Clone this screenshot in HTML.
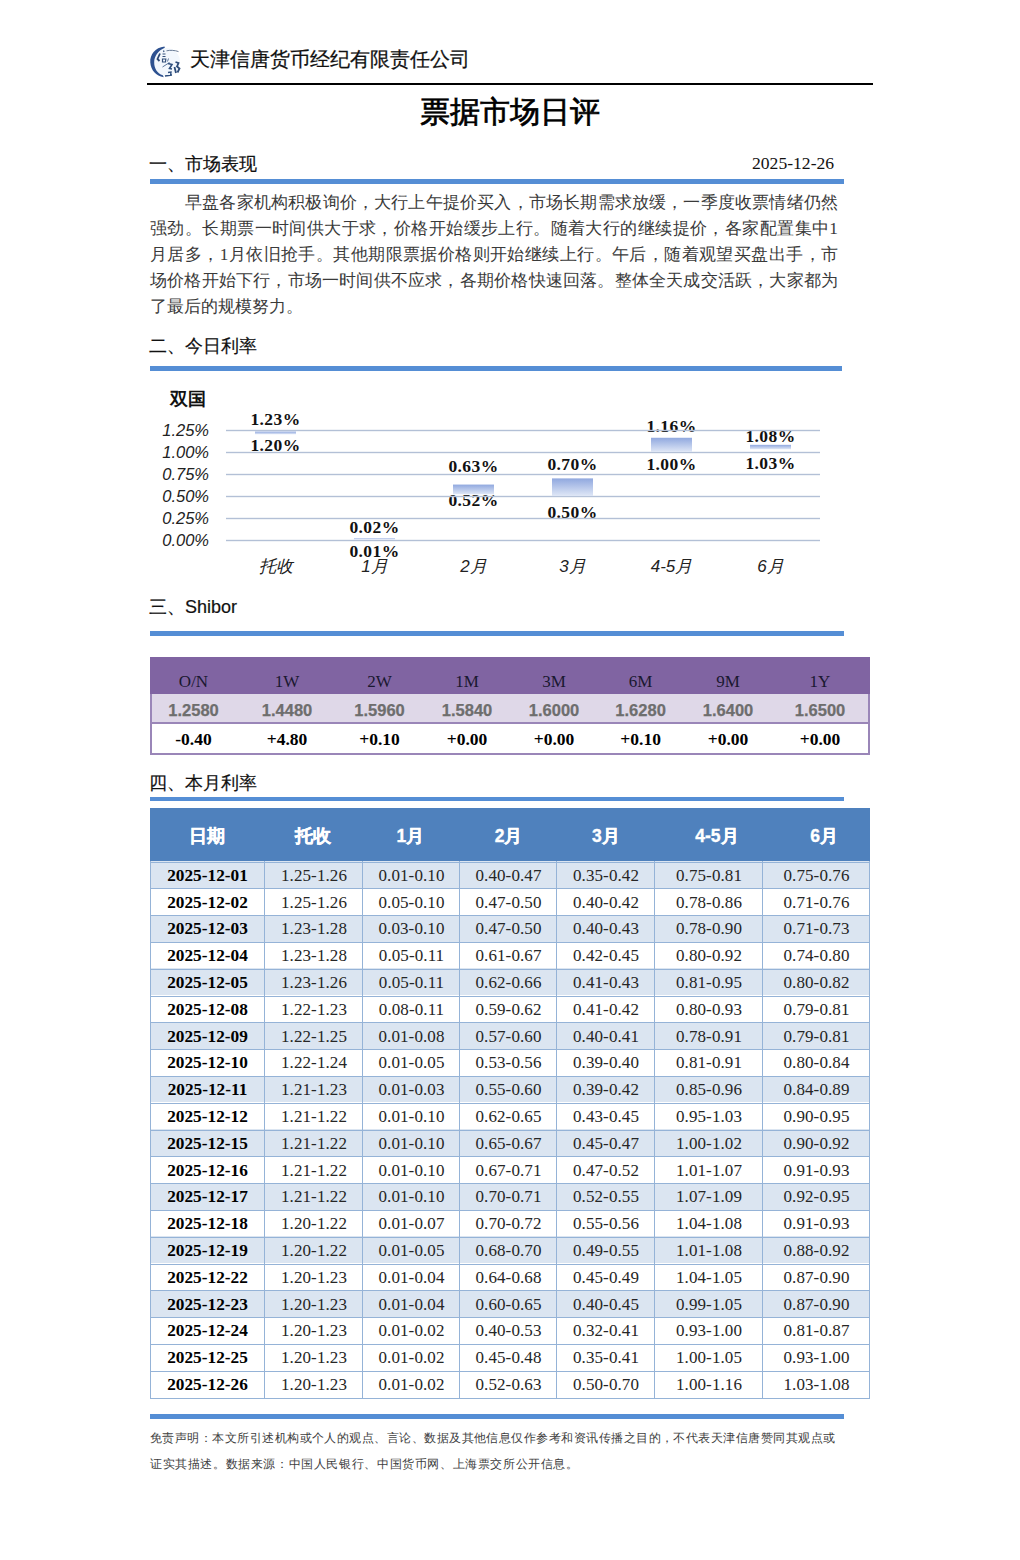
<!DOCTYPE html>
<html><head><meta charset="utf-8">
<style>
*{margin:0;padding:0;box-sizing:border-box}
html,body{width:1020px;height:1560px;background:#fff;overflow:hidden}
body{position:relative;font-family:"Liberation Serif",serif;color:#000}
.a{position:absolute;white-space:nowrap}
.c{position:absolute;white-space:nowrap;text-align:center;width:200px;margin-left:-100px}
.sans{font-family:"Liberation Sans",sans-serif}
.bar{position:absolute;left:150px;width:694px;height:5px;background:#558ed5}
.sec{position:absolute;left:149px;font-family:"Liberation Sans",sans-serif;font-size:18px;line-height:20px;color:#111;-webkit-text-stroke:0.2px #111}
.para{position:absolute;left:150px;width:688px;font-size:17.3px;color:#3a3a3a}
.para div{position:absolute;left:0;width:688px;white-space:nowrap;text-align:justify;text-align-last:justify;line-height:20px}
.para div.last{text-align-last:left}
.gl{position:absolute;left:226px;width:594px;height:1.6px;background:#b3c0d6}
.yl{position:absolute;left:120px;width:89px;text-align:right;font-family:"Liberation Sans",sans-serif;font-style:italic;font-size:16.5px;line-height:20px;color:#222}
.xl{position:absolute;width:120px;margin-left:-60px;text-align:center;font-family:"Liberation Sans",sans-serif;font-style:italic;font-size:17px;line-height:20px;color:#222}
.bl{position:absolute;width:120px;margin-left:-60px;text-align:center;font-weight:bold;font-size:17.5px;letter-spacing:0.4px;line-height:20px;color:#111}
.cb{position:absolute;width:41px;margin-left:-20.5px;background:linear-gradient(to bottom,#90a8df,#dfe7f6)}
.sh{position:absolute;width:120px;margin-left:-60px;text-align:center;line-height:20px;white-space:nowrap}
.mt{position:absolute;left:150px;top:808px;width:720px}
.hd{position:absolute;width:120px;margin-left:-60px;text-align:center;font-family:"Liberation Sans",sans-serif;font-weight:bold;font-size:17.5px;line-height:20px;color:#fff;-webkit-text-stroke:0.35px #fff}
.dt{position:absolute;width:120px;margin-left:-60px;text-align:center;font-size:17px;line-height:20px;color:#262626;white-space:nowrap}
</style></head><body>

<svg class="a" style="left:146px;top:43px" width="40" height="38" viewBox="0 0 40 38">
<defs><filter id="bl" x="-20%" y="-20%" width="140%" height="140%"><feGaussianBlur stdDeviation="0.3"/></filter></defs><circle cx="20" cy="19" r="14" fill="#f2f7fd"/><g filter="url(#bl)">
<path d="M18.5 3.6 C9 4.5 3.8 12 4.3 19.5 C4.8 27 10 33 17.8 34.3 L16.8 32.2 C11 30.5 8 25 8.2 19 C8.4 13 12 7.5 18.8 4.7 Z" fill="#2d5190"/>
<path d="M20.5 7.8 C24 7 29 7.2 32.5 8.6" fill="none" stroke="#5b6f8c" stroke-width="0.9"/>
<path d="M14 10.5 L11.5 16 L13.5 18" fill="none" stroke="#2f4a75" stroke-width="1.8"/>
<path d="M17.5 7.5 L18 9 M16.5 11 L19.5 11 M16.5 13.5 L19.5 13.5 M16.5 16 L19.8 16 L19.5 19 L16.5 19 Z" fill="none" stroke="#35507a" stroke-width="1.2"/>
<path d="M22.5 15.5 L21.5 18.5 M16.5 24 L23.5 19.5" fill="none" stroke="#4a6690" stroke-width="0.9"/>
<path d="M22 20.5 L26 21.5 L23.5 25.5 L26 26" fill="none" stroke="#2f4f7e" stroke-width="1.6"/>
<path d="M29.5 19 L32.5 20 L31 23.5 L33.5 25.5 L31.5 29.5 M28.5 24 L30 30" fill="none" stroke="#2d4b78" stroke-width="1.8"/>
<path d="M22 29.5 L25 29 L24.5 33 M19 33 L26 32" fill="none" stroke="#2f4f7e" stroke-width="1.4"/>
</g></svg>
<div class="a sans" style="left:190px;top:47px;font-size:20px;line-height:24px;color:#111;-webkit-text-stroke:0.25px #111">天津信唐货币经纪有限责任公司</div>
<div class="a" style="left:147px;top:83px;width:726px;height:2px;background:#000"></div>
<div class="a" style="left:420px;top:95px;font-size:30px;line-height:34px;font-weight:normal;-webkit-text-stroke:0.7px #000;color:#000;letter-spacing:0px">票据市场日评</div>
<div class="sec" style="top:154px">一、市场表现</div>
<div class="a" style="left:752px;top:153px;font-size:17.6px;line-height:20px;color:#111">2025-12-26</div>
<div class="bar" style="top:179px"></div>
<div class="para" style="top:0">
<div style="top:192.5px;left:35px;width:653px">早盘各家机构积极询价，大行上午提价买入，市场长期需求放缓，一季度收票情绪仍然</div>
<div style="top:218.5px">强劲。长期票一时间供大于求，价格开始缓步上行。随着大行的继续提价，各家配置集中1</div>
<div style="top:244.5px">月居多，1月依旧抢手。其他期限票据价格则开始继续上行。午后，随着观望买盘出手，市</div>
<div style="top:270.5px">场价格开始下行，市场一时间供不应求，各期价格快速回落。整体全天成交活跃，大家都为</div>
<div class="last" style="top:296.5px">了最后的规模努力。</div>
</div>
<div class="sec" style="top:336px">二、今日利率</div>
<div class="bar" style="top:366px;width:692px"></div>
<div class="a" style="left:170px;top:389px;font-size:17.5px;line-height:20px;font-weight:bold;color:#111">双国</div>
<div class="yl" style="top:420.0px">1.25%</div>
<div class="yl" style="top:442.0px">1.00%</div>
<div class="yl" style="top:464.0px">0.75%</div>
<div class="yl" style="top:486.0px">0.50%</div>
<div class="yl" style="top:508.0px">0.25%</div>
<div class="yl" style="top:530.0px">0.00%</div>
<div class="bl" style="left:275.5px;top:408.7px">1.23%</div>
<div class="bl" style="left:275.5px;top:435.1px">1.20%</div>
<div class="xl" style="left:275.5px;top:557px">托收</div>
<div class="bl" style="left:374.5px;top:516.7px">0.02%</div>
<div class="bl" style="left:374.5px;top:541.0px">0.01%</div>
<div class="xl" style="left:374.5px;top:557px">1月</div>
<div class="bl" style="left:473.5px;top:456.3px">0.63%</div>
<div class="bl" style="left:473.5px;top:490.2px">0.52%</div>
<div class="xl" style="left:473.5px;top:557px">2月</div>
<div class="bl" style="left:572.5px;top:453.8px">0.70%</div>
<div class="bl" style="left:572.5px;top:501.5px">0.50%</div>
<div class="xl" style="left:572.5px;top:557px">3月</div>
<div class="bl" style="left:671.5px;top:416.0px">1.16%</div>
<div class="bl" style="left:671.5px;top:453.8px">1.00%</div>
<div class="xl" style="left:671.5px;top:557px">4-5月</div>
<div class="bl" style="left:770.5px;top:426.3px">1.08%</div>
<div class="bl" style="left:770.5px;top:452.8px">1.03%</div>
<div class="xl" style="left:770.5px;top:557px">6月</div>
<svg class="a" style="left:0;top:0" width="1020" height="600" viewBox="0 0 1020 600"><defs><linearGradient id="bg" x1="0" y1="0" x2="0" y2="1"><stop offset="0" stop-color="#90a8df"/><stop offset="1" stop-color="#dfe7f6"/></linearGradient></defs><rect x="226" y="429.80" width="594" height="1.40" fill="#b3c0d6"/><rect x="226" y="451.80" width="594" height="1.40" fill="#b3c0d6"/><rect x="226" y="473.80" width="594" height="1.40" fill="#b3c0d6"/><rect x="226" y="495.80" width="594" height="1.40" fill="#b3c0d6"/><rect x="226" y="517.80" width="594" height="1.40" fill="#b3c0d6"/><rect x="226" y="539.80" width="594" height="1.40" fill="#b3c0d6"/><rect x="255.00" y="431.59" width="41" height="2.65" fill="url(#bg)"/><rect x="354.00" y="538.43" width="41" height="1.20" fill="url(#bg)"/><rect x="453.00" y="484.57" width="41" height="9.71" fill="url(#bg)"/><rect x="552.00" y="478.39" width="41" height="17.66" fill="url(#bg)"/><rect x="651.00" y="437.77" width="41" height="14.13" fill="url(#bg)"/><rect x="750.00" y="444.84" width="41" height="4.42" fill="url(#bg)"/></svg>
<div class="sec" style="top:597px">三、Shibor</div>
<div class="bar" style="top:631px"></div>
<div class="a" style="left:150px;top:657px;width:720px;height:98px;border:2px solid #9a86b8;background:#fff"></div>
<div class="a" style="left:150px;top:657px;width:720px;height:37px;background:#8064a2"></div>
<div class="a" style="left:152px;top:694px;width:716px;height:29px;background:#dfd8e8"></div>
<div class="a" style="left:150px;top:722px;width:720px;height:2px;background:#9a86b8"></div>
<div class="sh" style="left:193.5px;top:672px;font-size:17px;color:#1a1830">O/N</div>
<div class="sh sans" style="left:193.5px;top:700px;font-size:16.5px;font-weight:bold;color:#6e6e6e;-webkit-text-stroke:0.25px #6e6e6e">1.2580</div>
<div class="sh" style="left:193.5px;top:729px;font-size:17.5px;font-weight:bold;color:#000">-0.40</div>
<div class="sh" style="left:287.0px;top:672px;font-size:17px;color:#1a1830">1W</div>
<div class="sh sans" style="left:287.0px;top:700px;font-size:16.5px;font-weight:bold;color:#6e6e6e;-webkit-text-stroke:0.25px #6e6e6e">1.4480</div>
<div class="sh" style="left:287.0px;top:729px;font-size:17.5px;font-weight:bold;color:#000">+4.80</div>
<div class="sh" style="left:379.5px;top:672px;font-size:17px;color:#1a1830">2W</div>
<div class="sh sans" style="left:379.5px;top:700px;font-size:16.5px;font-weight:bold;color:#6e6e6e;-webkit-text-stroke:0.25px #6e6e6e">1.5960</div>
<div class="sh" style="left:379.5px;top:729px;font-size:17.5px;font-weight:bold;color:#000">+0.10</div>
<div class="sh" style="left:467.0px;top:672px;font-size:17px;color:#1a1830">1M</div>
<div class="sh sans" style="left:467.0px;top:700px;font-size:16.5px;font-weight:bold;color:#6e6e6e;-webkit-text-stroke:0.25px #6e6e6e">1.5840</div>
<div class="sh" style="left:467.0px;top:729px;font-size:17.5px;font-weight:bold;color:#000">+0.00</div>
<div class="sh" style="left:554.0px;top:672px;font-size:17px;color:#1a1830">3M</div>
<div class="sh sans" style="left:554.0px;top:700px;font-size:16.5px;font-weight:bold;color:#6e6e6e;-webkit-text-stroke:0.25px #6e6e6e">1.6000</div>
<div class="sh" style="left:554.0px;top:729px;font-size:17.5px;font-weight:bold;color:#000">+0.00</div>
<div class="sh" style="left:640.6px;top:672px;font-size:17px;color:#1a1830">6M</div>
<div class="sh sans" style="left:640.6px;top:700px;font-size:16.5px;font-weight:bold;color:#6e6e6e;-webkit-text-stroke:0.25px #6e6e6e">1.6280</div>
<div class="sh" style="left:640.6px;top:729px;font-size:17.5px;font-weight:bold;color:#000">+0.10</div>
<div class="sh" style="left:728.0px;top:672px;font-size:17px;color:#1a1830">9M</div>
<div class="sh sans" style="left:728.0px;top:700px;font-size:16.5px;font-weight:bold;color:#6e6e6e;-webkit-text-stroke:0.25px #6e6e6e">1.6400</div>
<div class="sh" style="left:728.0px;top:729px;font-size:17.5px;font-weight:bold;color:#000">+0.00</div>
<div class="sh" style="left:820.0px;top:672px;font-size:17px;color:#1a1830">1Y</div>
<div class="sh sans" style="left:820.0px;top:700px;font-size:16.5px;font-weight:bold;color:#6e6e6e;-webkit-text-stroke:0.25px #6e6e6e">1.6500</div>
<div class="sh" style="left:820.0px;top:729px;font-size:17.5px;font-weight:bold;color:#000">+0.00</div>
<div class="sec" style="top:773px">四、本月利率</div>
<div class="bar" style="top:797px;height:4px"></div>
<div class="a" style="left:150px;top:808px;width:720px;height:53px;background:#4f81bd"></div>
<div class="hd" style="left:206.8px;top:826px">日期</div>
<div class="hd" style="left:312.7px;top:826px">托收</div>
<div class="hd" style="left:410.3px;top:826px">1月</div>
<div class="hd" style="left:508.5px;top:826px">2月</div>
<div class="hd" style="left:605.9px;top:826px">3月</div>
<div class="hd" style="left:716.9px;top:826px">4-5月</div>
<div class="hd" style="left:824.2px;top:826px">6月</div>
<div class="a" style="left:150px;top:861.2px;width:720px;height:26.8px;background:#dbe5f1"></div>
<div class="dt" style="left:207.5px;top:865.7px;font-weight:bold;color:#000;font-size:17.3px">2025-12-01</div>
<div class="dt" style="left:314.0px;top:865.7px;letter-spacing:0.1px">1.25-1.26</div>
<div class="dt" style="left:411.5px;top:865.7px;letter-spacing:0.1px">0.01-0.10</div>
<div class="dt" style="left:508.5px;top:865.7px;letter-spacing:0.1px">0.40-0.47</div>
<div class="dt" style="left:606.0px;top:865.7px;letter-spacing:0.1px">0.35-0.42</div>
<div class="dt" style="left:709.0px;top:865.7px;letter-spacing:0.1px">0.75-0.81</div>
<div class="dt" style="left:816.5px;top:865.7px;letter-spacing:0.1px">0.75-0.76</div>
<div class="dt" style="left:207.5px;top:892.5px;font-weight:bold;color:#000;font-size:17.3px">2025-12-02</div>
<div class="dt" style="left:314.0px;top:892.5px;letter-spacing:0.1px">1.25-1.26</div>
<div class="dt" style="left:411.5px;top:892.5px;letter-spacing:0.1px">0.05-0.10</div>
<div class="dt" style="left:508.5px;top:892.5px;letter-spacing:0.1px">0.47-0.50</div>
<div class="dt" style="left:606.0px;top:892.5px;letter-spacing:0.1px">0.40-0.42</div>
<div class="dt" style="left:709.0px;top:892.5px;letter-spacing:0.1px">0.78-0.86</div>
<div class="dt" style="left:816.5px;top:892.5px;letter-spacing:0.1px">0.71-0.76</div>
<div class="a" style="left:150px;top:914.8px;width:720px;height:26.8px;background:#dbe5f1"></div>
<div class="dt" style="left:207.5px;top:919.3px;font-weight:bold;color:#000;font-size:17.3px">2025-12-03</div>
<div class="dt" style="left:314.0px;top:919.3px;letter-spacing:0.1px">1.23-1.28</div>
<div class="dt" style="left:411.5px;top:919.3px;letter-spacing:0.1px">0.03-0.10</div>
<div class="dt" style="left:508.5px;top:919.3px;letter-spacing:0.1px">0.47-0.50</div>
<div class="dt" style="left:606.0px;top:919.3px;letter-spacing:0.1px">0.40-0.43</div>
<div class="dt" style="left:709.0px;top:919.3px;letter-spacing:0.1px">0.78-0.90</div>
<div class="dt" style="left:816.5px;top:919.3px;letter-spacing:0.1px">0.71-0.73</div>
<div class="dt" style="left:207.5px;top:946.1px;font-weight:bold;color:#000;font-size:17.3px">2025-12-04</div>
<div class="dt" style="left:314.0px;top:946.1px;letter-spacing:0.1px">1.23-1.28</div>
<div class="dt" style="left:411.5px;top:946.1px;letter-spacing:0.1px">0.05-0.11</div>
<div class="dt" style="left:508.5px;top:946.1px;letter-spacing:0.1px">0.61-0.67</div>
<div class="dt" style="left:606.0px;top:946.1px;letter-spacing:0.1px">0.42-0.45</div>
<div class="dt" style="left:709.0px;top:946.1px;letter-spacing:0.1px">0.80-0.92</div>
<div class="dt" style="left:816.5px;top:946.1px;letter-spacing:0.1px">0.74-0.80</div>
<div class="a" style="left:150px;top:968.4px;width:720px;height:26.8px;background:#dbe5f1"></div>
<div class="dt" style="left:207.5px;top:972.9px;font-weight:bold;color:#000;font-size:17.3px">2025-12-05</div>
<div class="dt" style="left:314.0px;top:972.9px;letter-spacing:0.1px">1.23-1.26</div>
<div class="dt" style="left:411.5px;top:972.9px;letter-spacing:0.1px">0.05-0.11</div>
<div class="dt" style="left:508.5px;top:972.9px;letter-spacing:0.1px">0.62-0.66</div>
<div class="dt" style="left:606.0px;top:972.9px;letter-spacing:0.1px">0.41-0.43</div>
<div class="dt" style="left:709.0px;top:972.9px;letter-spacing:0.1px">0.81-0.95</div>
<div class="dt" style="left:816.5px;top:972.9px;letter-spacing:0.1px">0.80-0.82</div>
<div class="dt" style="left:207.5px;top:999.7px;font-weight:bold;color:#000;font-size:17.3px">2025-12-08</div>
<div class="dt" style="left:314.0px;top:999.7px;letter-spacing:0.1px">1.22-1.23</div>
<div class="dt" style="left:411.5px;top:999.7px;letter-spacing:0.1px">0.08-0.11</div>
<div class="dt" style="left:508.5px;top:999.7px;letter-spacing:0.1px">0.59-0.62</div>
<div class="dt" style="left:606.0px;top:999.7px;letter-spacing:0.1px">0.41-0.42</div>
<div class="dt" style="left:709.0px;top:999.7px;letter-spacing:0.1px">0.80-0.93</div>
<div class="dt" style="left:816.5px;top:999.7px;letter-spacing:0.1px">0.79-0.81</div>
<div class="a" style="left:150px;top:1022.0px;width:720px;height:26.8px;background:#dbe5f1"></div>
<div class="dt" style="left:207.5px;top:1026.5px;font-weight:bold;color:#000;font-size:17.3px">2025-12-09</div>
<div class="dt" style="left:314.0px;top:1026.5px;letter-spacing:0.1px">1.22-1.25</div>
<div class="dt" style="left:411.5px;top:1026.5px;letter-spacing:0.1px">0.01-0.08</div>
<div class="dt" style="left:508.5px;top:1026.5px;letter-spacing:0.1px">0.57-0.60</div>
<div class="dt" style="left:606.0px;top:1026.5px;letter-spacing:0.1px">0.40-0.41</div>
<div class="dt" style="left:709.0px;top:1026.5px;letter-spacing:0.1px">0.78-0.91</div>
<div class="dt" style="left:816.5px;top:1026.5px;letter-spacing:0.1px">0.79-0.81</div>
<div class="dt" style="left:207.5px;top:1053.3px;font-weight:bold;color:#000;font-size:17.3px">2025-12-10</div>
<div class="dt" style="left:314.0px;top:1053.3px;letter-spacing:0.1px">1.22-1.24</div>
<div class="dt" style="left:411.5px;top:1053.3px;letter-spacing:0.1px">0.01-0.05</div>
<div class="dt" style="left:508.5px;top:1053.3px;letter-spacing:0.1px">0.53-0.56</div>
<div class="dt" style="left:606.0px;top:1053.3px;letter-spacing:0.1px">0.39-0.40</div>
<div class="dt" style="left:709.0px;top:1053.3px;letter-spacing:0.1px">0.81-0.91</div>
<div class="dt" style="left:816.5px;top:1053.3px;letter-spacing:0.1px">0.80-0.84</div>
<div class="a" style="left:150px;top:1075.6px;width:720px;height:26.8px;background:#dbe5f1"></div>
<div class="dt" style="left:207.5px;top:1080.1px;font-weight:bold;color:#000;font-size:17.3px">2025-12-11</div>
<div class="dt" style="left:314.0px;top:1080.1px;letter-spacing:0.1px">1.21-1.23</div>
<div class="dt" style="left:411.5px;top:1080.1px;letter-spacing:0.1px">0.01-0.03</div>
<div class="dt" style="left:508.5px;top:1080.1px;letter-spacing:0.1px">0.55-0.60</div>
<div class="dt" style="left:606.0px;top:1080.1px;letter-spacing:0.1px">0.39-0.42</div>
<div class="dt" style="left:709.0px;top:1080.1px;letter-spacing:0.1px">0.85-0.96</div>
<div class="dt" style="left:816.5px;top:1080.1px;letter-spacing:0.1px">0.84-0.89</div>
<div class="dt" style="left:207.5px;top:1106.9px;font-weight:bold;color:#000;font-size:17.3px">2025-12-12</div>
<div class="dt" style="left:314.0px;top:1106.9px;letter-spacing:0.1px">1.21-1.22</div>
<div class="dt" style="left:411.5px;top:1106.9px;letter-spacing:0.1px">0.01-0.10</div>
<div class="dt" style="left:508.5px;top:1106.9px;letter-spacing:0.1px">0.62-0.65</div>
<div class="dt" style="left:606.0px;top:1106.9px;letter-spacing:0.1px">0.43-0.45</div>
<div class="dt" style="left:709.0px;top:1106.9px;letter-spacing:0.1px">0.95-1.03</div>
<div class="dt" style="left:816.5px;top:1106.9px;letter-spacing:0.1px">0.90-0.95</div>
<div class="a" style="left:150px;top:1129.2px;width:720px;height:26.8px;background:#dbe5f1"></div>
<div class="dt" style="left:207.5px;top:1133.7px;font-weight:bold;color:#000;font-size:17.3px">2025-12-15</div>
<div class="dt" style="left:314.0px;top:1133.7px;letter-spacing:0.1px">1.21-1.22</div>
<div class="dt" style="left:411.5px;top:1133.7px;letter-spacing:0.1px">0.01-0.10</div>
<div class="dt" style="left:508.5px;top:1133.7px;letter-spacing:0.1px">0.65-0.67</div>
<div class="dt" style="left:606.0px;top:1133.7px;letter-spacing:0.1px">0.45-0.47</div>
<div class="dt" style="left:709.0px;top:1133.7px;letter-spacing:0.1px">1.00-1.02</div>
<div class="dt" style="left:816.5px;top:1133.7px;letter-spacing:0.1px">0.90-0.92</div>
<div class="dt" style="left:207.5px;top:1160.5px;font-weight:bold;color:#000;font-size:17.3px">2025-12-16</div>
<div class="dt" style="left:314.0px;top:1160.5px;letter-spacing:0.1px">1.21-1.22</div>
<div class="dt" style="left:411.5px;top:1160.5px;letter-spacing:0.1px">0.01-0.10</div>
<div class="dt" style="left:508.5px;top:1160.5px;letter-spacing:0.1px">0.67-0.71</div>
<div class="dt" style="left:606.0px;top:1160.5px;letter-spacing:0.1px">0.47-0.52</div>
<div class="dt" style="left:709.0px;top:1160.5px;letter-spacing:0.1px">1.01-1.07</div>
<div class="dt" style="left:816.5px;top:1160.5px;letter-spacing:0.1px">0.91-0.93</div>
<div class="a" style="left:150px;top:1182.8px;width:720px;height:26.8px;background:#dbe5f1"></div>
<div class="dt" style="left:207.5px;top:1187.3px;font-weight:bold;color:#000;font-size:17.3px">2025-12-17</div>
<div class="dt" style="left:314.0px;top:1187.3px;letter-spacing:0.1px">1.21-1.22</div>
<div class="dt" style="left:411.5px;top:1187.3px;letter-spacing:0.1px">0.01-0.10</div>
<div class="dt" style="left:508.5px;top:1187.3px;letter-spacing:0.1px">0.70-0.71</div>
<div class="dt" style="left:606.0px;top:1187.3px;letter-spacing:0.1px">0.52-0.55</div>
<div class="dt" style="left:709.0px;top:1187.3px;letter-spacing:0.1px">1.07-1.09</div>
<div class="dt" style="left:816.5px;top:1187.3px;letter-spacing:0.1px">0.92-0.95</div>
<div class="dt" style="left:207.5px;top:1214.1px;font-weight:bold;color:#000;font-size:17.3px">2025-12-18</div>
<div class="dt" style="left:314.0px;top:1214.1px;letter-spacing:0.1px">1.20-1.22</div>
<div class="dt" style="left:411.5px;top:1214.1px;letter-spacing:0.1px">0.01-0.07</div>
<div class="dt" style="left:508.5px;top:1214.1px;letter-spacing:0.1px">0.70-0.72</div>
<div class="dt" style="left:606.0px;top:1214.1px;letter-spacing:0.1px">0.55-0.56</div>
<div class="dt" style="left:709.0px;top:1214.1px;letter-spacing:0.1px">1.04-1.08</div>
<div class="dt" style="left:816.5px;top:1214.1px;letter-spacing:0.1px">0.91-0.93</div>
<div class="a" style="left:150px;top:1236.4px;width:720px;height:26.8px;background:#dbe5f1"></div>
<div class="dt" style="left:207.5px;top:1240.9px;font-weight:bold;color:#000;font-size:17.3px">2025-12-19</div>
<div class="dt" style="left:314.0px;top:1240.9px;letter-spacing:0.1px">1.20-1.22</div>
<div class="dt" style="left:411.5px;top:1240.9px;letter-spacing:0.1px">0.01-0.05</div>
<div class="dt" style="left:508.5px;top:1240.9px;letter-spacing:0.1px">0.68-0.70</div>
<div class="dt" style="left:606.0px;top:1240.9px;letter-spacing:0.1px">0.49-0.55</div>
<div class="dt" style="left:709.0px;top:1240.9px;letter-spacing:0.1px">1.01-1.08</div>
<div class="dt" style="left:816.5px;top:1240.9px;letter-spacing:0.1px">0.88-0.92</div>
<div class="dt" style="left:207.5px;top:1267.7px;font-weight:bold;color:#000;font-size:17.3px">2025-12-22</div>
<div class="dt" style="left:314.0px;top:1267.7px;letter-spacing:0.1px">1.20-1.23</div>
<div class="dt" style="left:411.5px;top:1267.7px;letter-spacing:0.1px">0.01-0.04</div>
<div class="dt" style="left:508.5px;top:1267.7px;letter-spacing:0.1px">0.64-0.68</div>
<div class="dt" style="left:606.0px;top:1267.7px;letter-spacing:0.1px">0.45-0.49</div>
<div class="dt" style="left:709.0px;top:1267.7px;letter-spacing:0.1px">1.04-1.05</div>
<div class="dt" style="left:816.5px;top:1267.7px;letter-spacing:0.1px">0.87-0.90</div>
<div class="a" style="left:150px;top:1290.0px;width:720px;height:26.8px;background:#dbe5f1"></div>
<div class="dt" style="left:207.5px;top:1294.5px;font-weight:bold;color:#000;font-size:17.3px">2025-12-23</div>
<div class="dt" style="left:314.0px;top:1294.5px;letter-spacing:0.1px">1.20-1.23</div>
<div class="dt" style="left:411.5px;top:1294.5px;letter-spacing:0.1px">0.01-0.04</div>
<div class="dt" style="left:508.5px;top:1294.5px;letter-spacing:0.1px">0.60-0.65</div>
<div class="dt" style="left:606.0px;top:1294.5px;letter-spacing:0.1px">0.40-0.45</div>
<div class="dt" style="left:709.0px;top:1294.5px;letter-spacing:0.1px">0.99-1.05</div>
<div class="dt" style="left:816.5px;top:1294.5px;letter-spacing:0.1px">0.87-0.90</div>
<div class="dt" style="left:207.5px;top:1321.3px;font-weight:bold;color:#000;font-size:17.3px">2025-12-24</div>
<div class="dt" style="left:314.0px;top:1321.3px;letter-spacing:0.1px">1.20-1.23</div>
<div class="dt" style="left:411.5px;top:1321.3px;letter-spacing:0.1px">0.01-0.02</div>
<div class="dt" style="left:508.5px;top:1321.3px;letter-spacing:0.1px">0.40-0.53</div>
<div class="dt" style="left:606.0px;top:1321.3px;letter-spacing:0.1px">0.32-0.41</div>
<div class="dt" style="left:709.0px;top:1321.3px;letter-spacing:0.1px">0.93-1.00</div>
<div class="dt" style="left:816.5px;top:1321.3px;letter-spacing:0.1px">0.81-0.87</div>
<div class="dt" style="left:207.5px;top:1348.1px;font-weight:bold;color:#000;font-size:17.3px">2025-12-25</div>
<div class="dt" style="left:314.0px;top:1348.1px;letter-spacing:0.1px">1.20-1.23</div>
<div class="dt" style="left:411.5px;top:1348.1px;letter-spacing:0.1px">0.01-0.02</div>
<div class="dt" style="left:508.5px;top:1348.1px;letter-spacing:0.1px">0.45-0.48</div>
<div class="dt" style="left:606.0px;top:1348.1px;letter-spacing:0.1px">0.35-0.41</div>
<div class="dt" style="left:709.0px;top:1348.1px;letter-spacing:0.1px">1.00-1.05</div>
<div class="dt" style="left:816.5px;top:1348.1px;letter-spacing:0.1px">0.93-1.00</div>
<div class="dt" style="left:207.5px;top:1374.9px;font-weight:bold;color:#000;font-size:17.3px">2025-12-26</div>
<div class="dt" style="left:314.0px;top:1374.9px;letter-spacing:0.1px">1.20-1.23</div>
<div class="dt" style="left:411.5px;top:1374.9px;letter-spacing:0.1px">0.01-0.02</div>
<div class="dt" style="left:508.5px;top:1374.9px;letter-spacing:0.1px">0.52-0.63</div>
<div class="dt" style="left:606.0px;top:1374.9px;letter-spacing:0.1px">0.50-0.70</div>
<div class="dt" style="left:709.0px;top:1374.9px;letter-spacing:0.1px">1.00-1.16</div>
<div class="dt" style="left:816.5px;top:1374.9px;letter-spacing:0.1px">1.03-1.08</div>
<div class="a" style="left:150px;top:861.5px;width:720px;height:1px;background:#95b3d7"></div>
<div class="a" style="left:150px;top:888.3px;width:720px;height:1px;background:#95b3d7"></div>
<div class="a" style="left:150px;top:915.1px;width:720px;height:1px;background:#95b3d7"></div>
<div class="a" style="left:150px;top:941.9px;width:720px;height:1px;background:#95b3d7"></div>
<div class="a" style="left:150px;top:968.7px;width:720px;height:1px;background:#95b3d7"></div>
<div class="a" style="left:150px;top:995.5px;width:720px;height:1px;background:#95b3d7"></div>
<div class="a" style="left:150px;top:1022.3px;width:720px;height:1px;background:#95b3d7"></div>
<div class="a" style="left:150px;top:1049.1px;width:720px;height:1px;background:#95b3d7"></div>
<div class="a" style="left:150px;top:1075.9px;width:720px;height:1px;background:#95b3d7"></div>
<div class="a" style="left:150px;top:1102.7px;width:720px;height:1px;background:#95b3d7"></div>
<div class="a" style="left:150px;top:1129.5px;width:720px;height:1px;background:#95b3d7"></div>
<div class="a" style="left:150px;top:1156.3px;width:720px;height:1px;background:#95b3d7"></div>
<div class="a" style="left:150px;top:1183.1px;width:720px;height:1px;background:#95b3d7"></div>
<div class="a" style="left:150px;top:1209.9px;width:720px;height:1px;background:#95b3d7"></div>
<div class="a" style="left:150px;top:1236.7px;width:720px;height:1px;background:#95b3d7"></div>
<div class="a" style="left:150px;top:1263.5px;width:720px;height:1px;background:#95b3d7"></div>
<div class="a" style="left:150px;top:1290.3px;width:720px;height:1px;background:#95b3d7"></div>
<div class="a" style="left:150px;top:1317.1px;width:720px;height:1px;background:#95b3d7"></div>
<div class="a" style="left:150px;top:1343.9px;width:720px;height:1px;background:#95b3d7"></div>
<div class="a" style="left:150px;top:1370.7px;width:720px;height:1px;background:#95b3d7"></div>
<div class="a" style="left:150px;top:1397.5px;width:720px;height:1px;background:#95b3d7"></div>
<div class="a" style="left:150px;top:861px;width:1px;height:536.5px;background:#95b3d7"></div>
<div class="a" style="left:264px;top:861px;width:1px;height:536.5px;background:#95b3d7"></div>
<div class="a" style="left:362px;top:861px;width:1px;height:536.5px;background:#95b3d7"></div>
<div class="a" style="left:459px;top:861px;width:1px;height:536.5px;background:#95b3d7"></div>
<div class="a" style="left:556px;top:861px;width:1px;height:536.5px;background:#95b3d7"></div>
<div class="a" style="left:654px;top:861px;width:1px;height:536.5px;background:#95b3d7"></div>
<div class="a" style="left:762px;top:861px;width:1px;height:536.5px;background:#95b3d7"></div>
<div class="a" style="left:869px;top:861px;width:1px;height:536.5px;background:#95b3d7"></div>
<div class="bar" style="top:1414px"></div>
<div class="a" style="left:150px;width:685px;text-align:justify;text-align-last:justify;top:1428px;font-size:12px;line-height:20px;color:#404040;letter-spacing:0px">免责声明：本文所引述机构或个人的观点、言论、数据及其他信息仅作参考和资讯传播之目的，不代表天津信唐赞同其观点或</div>
<div class="a" style="left:150px;width:428px;text-align:justify;text-align-last:justify;top:1454px;font-size:12px;line-height:20px;color:#404040;letter-spacing:0px">证实其描述。数据来源：中国人民银行、中国货币网、上海票交所公开信息。</div>
</body></html>
